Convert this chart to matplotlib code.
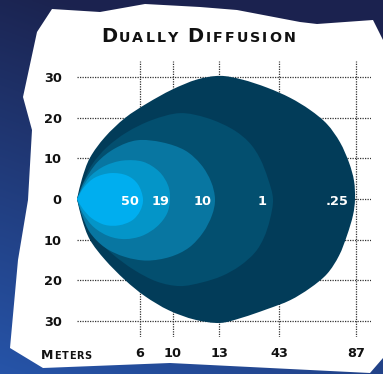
import numpy as np
import matplotlib
matplotlib.use("Agg")
import matplotlib.pyplot as plt
from matplotlib.path import Path
from matplotlib.patches import PathPatch, Polygon
from matplotlib.font_manager import FontProperties

# ---------------- data ----------------
title = "Dually Diffusion"
axis_name = "Meters"
x_tick_pos = [63, 96, 142, 202, 279]          # chart positions of distance marks
x_tick_labels = ["6", "10", "13", "43", "87"]   # meters
y_tick_vals = [30, 20, 10, 0, -10, -20, -30]
y_tick_labels = ["30", "20", "10", "0", "10", "20", "30"]

contour_labels = ["50", "19", "10", "1", ".25"]
contour_label_x = [53, 84, 126, 185, 260]
contour_colors = ["#00aeef", "#0495c8", "#0876a1", "#034f6f", "#023c59"]

# beam contour outlines (x: chart position, y: spread)
c25_x = [0, 5, 13, 28, 48, 70, 95, 120, 143, 165, 190, 213, 233, 250, 263, 272, 277, 278,
         276, 270, 262, 250, 233, 213, 190, 165, 143, 118, 92, 68, 48, 28, 13, 5]
c25_y = [0, 5, 10.2, 15.3, 20, 23.6, 27, 29.5, 30.4, 29.5, 27.5, 25, 22, 18.5, 14, 9, 4.5, 0,
         -4, -9, -14, -18.5, -22, -25, -27.2, -29.3, -30.6, -29.8, -27.5, -24, -20, -15, -10.1, -5]
c1_x = [0, 6, 15, 30, 50, 75, 103, 130, 155, 172, 183, 191, 196,
        193, 187, 178, 163, 145, 125, 103, 80, 57, 35, 17, 6]
c1_y = [0, 4, 8.5, 12.8, 16.5, 19.5, 21.2, 20, 17.3, 14, 10, 5, 0,
        -5, -9.5, -13.2, -16.5, -19, -20.6, -21.5, -20.4, -17.5, -13.5, -9, -4.5]
c10_x = [0, 7, 20, 38, 60, 85, 108, 124, 134, 138, 135, 126, 112, 93, 70, 48, 28, 13, 5]
c10_y = [0, 4.2, 9, 12.5, 14.5, 14, 12, 8.5, 4.3, 0, -4, -8.3, -12, -14.3, -15.2, -14.3, -12, -8.3, -4.0]
c19_x = [0, 6, 14, 28, 46, 66, 82, 91, 93, 90, 80, 65, 48, 32, 17, 6]
c19_y = [0, 3, 5.8, 8.2, 9.5, 9.2, 6.8, 3.4, 0, -3.6, -6.8, -9.1, -9.9, -9.2, -7, -3.6]
c50_x = [0, 7, 18, 34, 50, 61, 66, 63, 55, 42, 28, 15, 6]
c50_y = [0, 2.9, 5.3, 6.4, 5.8, 3.6, 0, -3, -5.3, -6.5, -6.4, -4.8, -2.5]

contours = [(c25_x, c25_y), (c1_x, c1_y), (c10_x, c10_y), (c19_x, c19_y), (c50_x, c50_y)]

# ---------------- figure ----------------
W, H = 383, 374
fig = plt.figure(figsize=(W / 100, H / 100), dpi=100)

# background gradient
bg = fig.add_axes([0, 0, 1, 1])
yy, xx = np.mgrid[0:1:200j, 0:1:200j]
t = np.clip(0.95 * yy - 0.35 * xx + 0.05, 0, 1)[..., None]
dark = np.array([0.106, 0.137, 0.31])
light = np.array([0.15, 0.33, 0.66])
bg.imshow(dark * (1 - t) + light * t, extent=[0, W, H, 0], aspect="auto", interpolation="bilinear")
paper = [(52, 9), (100, 12), (145, 4), (200, 7), (237, 10), (300, 22), (317, 24), (373, 20), (383, 40),
         (383, 358), (370, 373), (250, 367), (170, 363), (43, 368), (10, 348), (18, 260), (28, 200),
         (32, 130), (23, 97), (37, 32)]
bg.add_patch(Polygon(paper, closed=True, facecolor="white", edgecolor="none"))
bg.set_xlim(0, W)
bg.set_ylim(H, 0)
bg.axis("off")

# main chart axes
ax = fig.add_axes([77 / W, 37 / H, 294 / W, 276 / H])
ax.set_facecolor("none")
ax.set_xlim(0, 294)
ax.set_ylim(-34.07, 34.07)
for s in ax.spines.values():
    s.set_visible(False)

ax.hlines(y_tick_vals, 0, 294, colors="#333333", linestyles=(0, (1, 1)), linewidth=0.9, zorder=1)
ax.vlines(x_tick_pos, -34.07, 34.07, colors="#333333", linestyles=(0, (1, 1)), linewidth=0.9, zorder=1)


def smooth_path(xs, ys):
    """Closed Catmull-Rom outline with a sharp corner at the first point (beam origin)."""
    pts = np.column_stack([xs, ys]).astype(float)
    n = len(pts)
    verts = [pts[0]]
    codes = [Path.MOVETO]
    for i in range(n):
        p0, p1, p2, p3 = pts[i - 1], pts[i], pts[(i + 1) % n], pts[(i + 2) % n]
        c1 = p1 + (p2 - p0) / 6.0
        c2 = p2 - (p3 - p1) / 6.0
        if i == 0:
            c1 = p1 + (p2 - p1) / 3.0
        if (i + 1) % n == 0:
            c2 = p2 + (p1 - p2) / 3.0
        verts += [c1, c2, p2]
        codes += [Path.CURVE4] * 3
    return Path(np.array(verts), codes)


for (cx, cy), col in zip(contours, contour_colors[::-1]):
    ax.add_patch(PathPatch(smooth_path(cx, cy), facecolor=col, edgecolor="none", zorder=2))

for lab, lx in zip(contour_labels, contour_label_x):
    ax.text(lx, -1.5, lab, color="white", fontsize=9.3, fontweight="bold",
            ha="center", va="baseline", zorder=3, family="DejaVu Sans")

ax.set_xticks(x_tick_pos)
ax.set_xticklabels(x_tick_labels, fontsize=9.3, fontweight="bold", color="#111111")
ax.set_yticks(y_tick_vals)
ax.set_yticklabels(y_tick_labels, fontsize=9.3, fontweight="bold", color="#111111")
ax.tick_params(axis="x", length=0, pad=7)
ax.tick_params(axis="y", length=0, pad=11)

# small caps text helper
renderer = fig.canvas.get_renderer()


def small_caps(text, x_px, y_base_px, big, small, track, anchor="left", color="#111111"):
    pieces = []
    for ch in text:
        size = big if (ch.isupper() or ch.isdigit()) else small
        fp = FontProperties(family="DejaVu Sans", weight="bold", size=size)
        s = ch.upper()
        w, h, d = renderer.get_text_width_height_descent(s if s != " " else "n", fp, ismath=False)
        if s == " ":
            w *= 0.55
        pieces.append((s, fp, w))
    total = sum(p[2] for p in pieces) + track * (len(pieces) - 1)
    x = x_px - total / 2 if anchor == "center" else x_px
    for s, fp, w in pieces:
        if s != " ":
            fig.text(x / W, 1 - y_base_px / H, s, fontproperties=fp, color=color, va="baseline", ha="left")
        x += w + track


small_caps(title, 198, 42, 14, 10.3, 2.0, anchor="center")
small_caps(axis_name, 41, 359, 9, 7, 0.7)

fig.savefig("out.png", dpi=100)
